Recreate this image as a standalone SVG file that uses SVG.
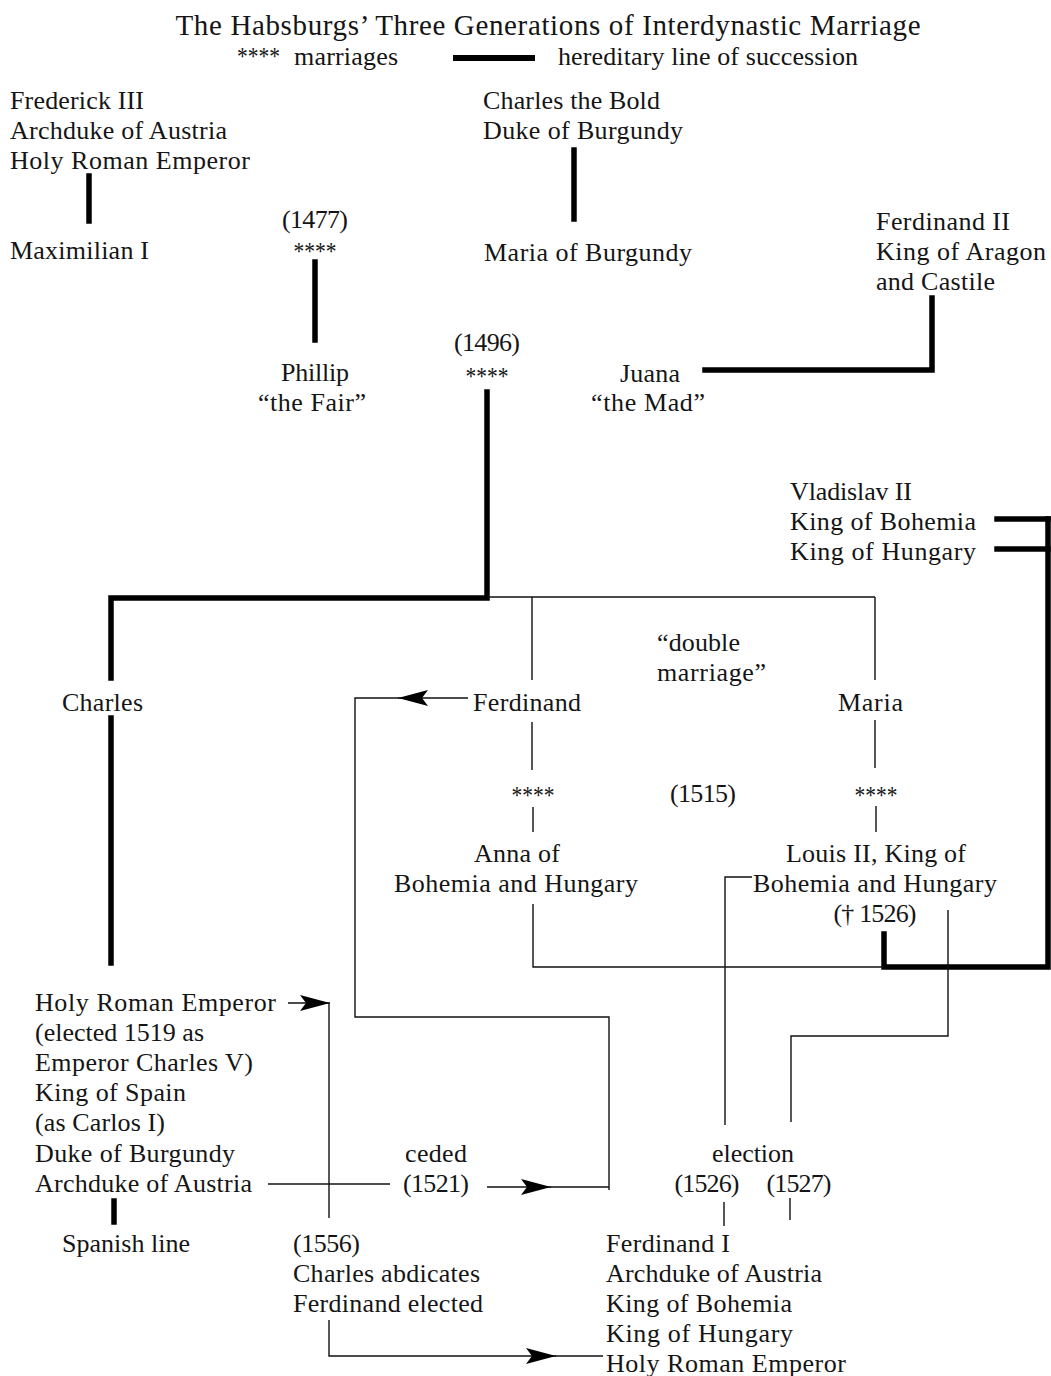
<svg xmlns="http://www.w3.org/2000/svg" width="1051" height="1376" viewBox="0 0 1051 1376">
<style>
text{font-family:"Liberation Serif","Times New Roman",serif;font-size:26px;fill:#151515}
.c{text-anchor:middle}
.ast{font-size:26px}
.ttl{font-size:29px}
.thick{stroke:#000;stroke-width:5.5;fill:none;stroke-linecap:square}
.thin{stroke:#111;stroke-width:1.4;fill:none}
</style>
<defs>
<marker id="arr" markerUnits="userSpaceOnUse" markerWidth="32" markerHeight="18" refX="30" refY="9" orient="auto">
<path d="M0,1 L30,9 L0,17 L6,9 z" fill="#000"/>
</marker>
</defs>
<rect width="1051" height="1376" fill="#fff"/>

<g id="title">
<text x="548" y="35" class="c ttl" textLength="745" lengthAdjust="spacing">The Habsburgs’ Three Generations of Interdynastic Marriage</text>
<text x="237" y="65" class="ast" textLength="43" lengthAdjust="spacingAndGlyphs">****</text>
<text x="294" y="65" textLength="104" lengthAdjust="spacing">marriages</text>
<rect x="453" y="55" width="82" height="6" fill="#000"/>
<text x="558" y="65" textLength="300" lengthAdjust="spacing">hereditary line of succession</text>
</g>

<g id="connectors">
<!-- thick hereditary lines -->
<line class="thick" x1="89" y1="176" x2="89" y2="221"/>
<line class="thick" x1="574" y1="150" x2="574" y2="219"/>
<line class="thick" x1="315" y1="262" x2="315" y2="340"/>
<polyline class="thick" points="932,298 932,370 705,370"/>
<polyline class="thick" points="487,392 487,598 111,598 111,678"/>
<line class="thick" x1="111" y1="718" x2="111" y2="963"/>
<polyline class="thick" points="997,519 1048,519"/>
<polyline class="thick" points="997,549 1048,549"/>
<polyline class="thick" points="1048,519 1048,967 884,967 884,934"/>
<line class="thick" x1="114" y1="1201" x2="114" y2="1222"/>
<!-- thin lines -->
<line class="thin" x1="487" y1="597" x2="875" y2="597"/>
<line class="thin" x1="532" y1="597" x2="532" y2="680"/>
<line class="thin" x1="875" y1="597" x2="875" y2="680"/>
<line class="thin" x1="532" y1="722" x2="532" y2="770"/>
<line class="thin" x1="533" y1="807" x2="533" y2="832"/>
<line class="thin" x1="875" y1="720" x2="875" y2="768"/>
<line class="thin" x1="876" y1="806" x2="876" y2="832"/>
<polyline class="thin" points="533,904 533,967 884,967"/>
<polyline class="thin" points="752,877 725,877 725,1125"/>
<polyline class="thin" points="948,910 948,1036 791,1036 791,1122"/>
<line class="thin" x1="724" y1="1202" x2="724" y2="1226"/>
<line class="thin" x1="790" y1="1198" x2="790" y2="1220"/>
<!-- Ferdinand to Ferdinand I -->
<line class="thin" x1="468" y1="698" x2="398" y2="698" marker-end="url(#arr)"/>
<polyline class="thin" points="399,698 355,698 355,1017 609,1017 609,1190"/>
<!-- ceded -->
<line class="thin" x1="268" y1="1184" x2="390" y2="1184"/>
<line class="thin" x1="487" y1="1187" x2="551" y2="1187" marker-end="url(#arr)"/>
<line class="thin" x1="550" y1="1187" x2="609" y2="1187"/>
<!-- HRE arrow and abdication -->
<line class="thin" x1="288" y1="1003" x2="330" y2="1003" marker-end="url(#arr)"/>
<line class="thin" x1="329" y1="1003" x2="329" y2="1218"/>
<polyline class="thin" points="329,1320 329,1356 556,1356" marker-end="url(#arr)"/>
<line class="thin" x1="555" y1="1356" x2="603" y2="1356"/>
</g>

<g id="frederick-iii">
<text x="10" y="109" textLength="134" lengthAdjust="spacing">Frederick III</text>
<text x="10" y="139" textLength="217" lengthAdjust="spacing">Archduke of Austria</text>
<text x="10" y="169" textLength="240" lengthAdjust="spacing">Holy Roman Emperor</text>
</g>
<g id="maximilian-i">
<text x="10" y="259" textLength="139" lengthAdjust="spacing">Maximilian I</text>
</g>
<g id="charles-the-bold">
<text x="483" y="109" textLength="177" lengthAdjust="spacing">Charles the Bold</text>
<text x="483" y="139" textLength="200" lengthAdjust="spacing">Duke of Burgundy</text>
</g>
<g id="maria-of-burgundy">
<text x="484" y="261" textLength="208" lengthAdjust="spacing">Maria of Burgundy</text>
</g>
<g id="ferdinand-ii">
<text x="876" y="230" textLength="134" lengthAdjust="spacing">Ferdinand II</text>
<text x="876" y="260" textLength="170" lengthAdjust="spacing">King of Aragon</text>
<text x="876" y="290" textLength="119" lengthAdjust="spacing">and Castile</text>
</g>
<g id="marriage-1477">
<text x="315" y="228" class="c" textLength="66" lengthAdjust="spacing">(1477)</text>
<text x="315" y="260" class="c ast" textLength="43" lengthAdjust="spacingAndGlyphs">****</text>
</g>
<g id="phillip">
<text x="315" y="381" class="c" textLength="68" lengthAdjust="spacing">Phillip</text>
<text x="312" y="411" class="c" textLength="108" lengthAdjust="spacing">“the Fair”</text>
</g>
<g id="marriage-1496">
<text x="487" y="351" class="c" textLength="66" lengthAdjust="spacing">(1496)</text>
<text x="487" y="385" class="c ast" textLength="43" lengthAdjust="spacingAndGlyphs">****</text>
</g>
<g id="juana">
<text x="650" y="382" class="c" textLength="60" lengthAdjust="spacing">Juana</text>
<text x="648" y="411" class="c" textLength="114" lengthAdjust="spacing">“the Mad”</text>
</g>
<g id="vladislav-ii">
<text x="790" y="500" textLength="122" lengthAdjust="spacing">Vladislav II</text>
<text x="790" y="530" textLength="186" lengthAdjust="spacing">King of Bohemia</text>
<text x="790" y="560" textLength="186" lengthAdjust="spacing">King of Hungary</text>
</g>
<g id="double-marriage">
<text x="657" y="651" textLength="83" lengthAdjust="spacing">“double</text>
<text x="657" y="681" textLength="109" lengthAdjust="spacing">marriage”</text>
<text x="703" y="802" class="c" textLength="66" lengthAdjust="spacing">(1515)</text>
</g>
<g id="charles">
<text x="62" y="711" textLength="81" lengthAdjust="spacing">Charles</text>
</g>
<g id="ferdinand">
<text x="473" y="711" textLength="108" lengthAdjust="spacing">Ferdinand</text>
<text x="533" y="804" class="c ast" textLength="43" lengthAdjust="spacingAndGlyphs">****</text>
</g>
<g id="maria">
<text x="838" y="711" textLength="65" lengthAdjust="spacing">Maria</text>
<text x="876" y="804" class="c ast" textLength="43" lengthAdjust="spacingAndGlyphs">****</text>
</g>
<g id="anna">
<text x="517" y="862" class="c" textLength="86" lengthAdjust="spacing">Anna of</text>
<text x="394" y="892" textLength="244" lengthAdjust="spacing">Bohemia and Hungary</text>
</g>
<g id="louis-ii">
<text x="786" y="862" textLength="180" lengthAdjust="spacing">Louis II, King of</text>
<text x="753" y="892" textLength="244" lengthAdjust="spacing">Bohemia and Hungary</text>
<text x="875" y="922" class="c" textLength="83" lengthAdjust="spacing">(† 1526)</text>
</g>
<g id="charles-v">
<text x="35" y="1011" textLength="241" lengthAdjust="spacing">Holy Roman Emperor</text>
<text x="35" y="1041" textLength="169" lengthAdjust="spacing">(elected 1519 as</text>
<text x="35" y="1071" textLength="218" lengthAdjust="spacing">Emperor Charles V)</text>
<text x="35" y="1101" textLength="151" lengthAdjust="spacing">King of Spain</text>
<text x="35" y="1131" textLength="130" lengthAdjust="spacing">(as Carlos I)</text>
<text x="35" y="1162" textLength="200" lengthAdjust="spacing">Duke of Burgundy</text>
<text x="35" y="1192" textLength="217" lengthAdjust="spacing">Archduke of Austria</text>
</g>
<g id="ceded">
<text x="436" y="1162" class="c" textLength="62" lengthAdjust="spacing">ceded</text>
<text x="436" y="1192" class="c" textLength="66" lengthAdjust="spacing">(1521)</text>
</g>
<g id="election">
<text x="753" y="1162" class="c" textLength="82" lengthAdjust="spacing">election</text>
<text x="707" y="1192" class="c" textLength="65" lengthAdjust="spacing">(1526)</text>
<text x="799" y="1192" class="c" textLength="65" lengthAdjust="spacing">(1527)</text>
</g>
<g id="spanish-line">
<text x="62" y="1252" textLength="128" lengthAdjust="spacing">Spanish line</text>
</g>
<g id="abdication">
<text x="293" y="1252" textLength="67" lengthAdjust="spacing">(1556)</text>
<text x="293" y="1282" textLength="187" lengthAdjust="spacing">Charles abdicates</text>
<text x="293" y="1312" textLength="190" lengthAdjust="spacing">Ferdinand elected</text>
</g>
<g id="ferdinand-i">
<text x="606" y="1252" textLength="124" lengthAdjust="spacing">Ferdinand I</text>
<text x="606" y="1282" textLength="216" lengthAdjust="spacing">Archduke of Austria</text>
<text x="606" y="1312" textLength="186" lengthAdjust="spacing">King of Bohemia</text>
<text x="606" y="1342" textLength="187" lengthAdjust="spacing">King of Hungary</text>
<text x="606" y="1372" textLength="240" lengthAdjust="spacing">Holy Roman Emperor</text>
</g>
</svg>
